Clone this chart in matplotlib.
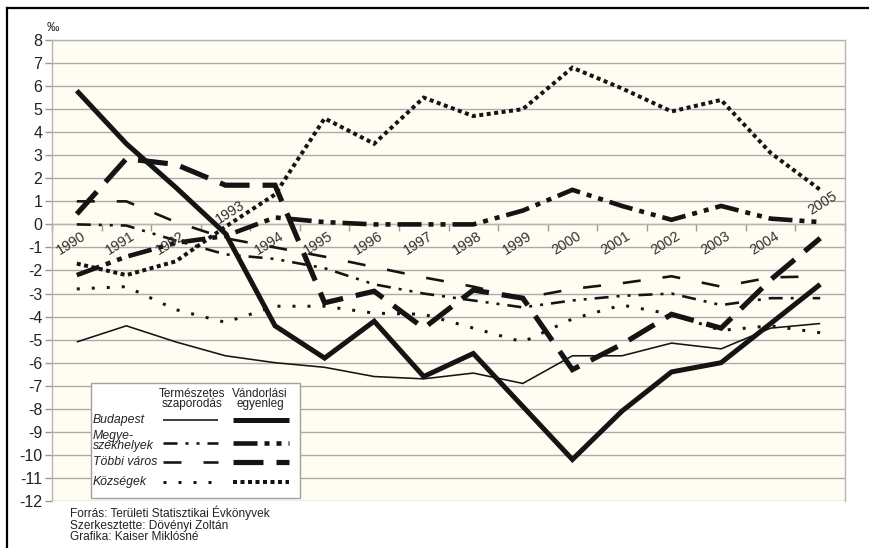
"""Budapest / megyeszékhelyek / többi város / községek: természetes szaporodás és vándorlási egyenleg, 1990-2005."""
import matplotlib
matplotlib.use("Agg")
import matplotlib.pyplot as plt
from matplotlib.lines import Line2D
from matplotlib.patches import Rectangle

plt.rcParams["font.family"] = ["Liberation Sans", "DejaVu Sans"]
plt.rcParams["lines.scale_dashes"] = False
plt.rcParams["axes.unicode_minus"] = False

# --- data (‰) ---
years = list(range(1990, 2006))

budapest_term = [-5.1, -4.4, -5.1, -5.7, -6.0, -6.2, -6.6, -6.7, -6.45, -6.9, -5.7, -5.7, -5.15, -5.4, -4.5, -4.3]
budapest_vand = [5.8, 3.5, 1.6, -0.4, -4.4, -5.8, -4.2, -6.6, -5.6, -7.9, -10.2, -8.1, -6.4, -6.0, -4.3, -2.6]
megye_term = [0.0, -0.05, -0.7, -1.3, -1.5, -1.9, -2.6, -3.0, -3.3, -3.6, -3.3, -3.1, -3.0, -3.5, -3.2, -3.2]
megye_vand = [-2.2, -1.4, -0.8, -0.5, 0.3, 0.1, 0.0, 0.0, 0.0, 0.6, 1.5, 0.8, 0.2, 0.8, 0.25, 0.1]
tobbi_term = [1.0, 1.0, 0.1, -0.6, -1.0, -1.4, -1.85, -2.3, -2.7, -3.2, -2.8, -2.55, -2.25, -2.7, -2.3, -2.25]
tobbi_vand = [0.45, 2.85, 2.6, 1.7, 1.7, -3.4, -2.9, -4.5, -2.85, -3.2, -6.3, -5.2, -3.9, -4.5, -2.4, -0.6]
kozseg_term = [-2.8, -2.7, -3.7, -4.25, -3.55, -3.55, -3.85, -3.9, -4.5, -5.1, -4.1, -3.5, -3.9, -4.6, -4.4, -4.7]
kozseg_vand = [-1.7, -2.2, -1.6, -0.1, 1.3, 4.6, 3.5, 5.5, 4.7, 5.0, 6.8, 5.9, 4.9, 5.4, 3.1, 1.5]

row_labels = ["Budapest", "Megye-\nszékhelyek", "Többi város", "Községek"]
col_labels = ["Természetes\nszaporodás", "Vándorlási\negyenleg"]
source_lines = [
    "Forrás: Területi Statisztikai Évkönyvek",
    "Szerkesztette: Dövényi Zoltán",
    "Grafika: Kaiser Miklósné",
]

# --- layout (pixels of the 869x548 picture) ---
W, H = 869, 548
PL, PR, PT, PB = 52, 845, 40, 501
PT2PX = 0.72  # points per pixel at dpi 100
INK = "#141414"


def dash(*px):
    return (0, tuple(v * PT2PX for v in px))


# linewidth (px) and dash pattern (px)
styles = {
    "bp_t": dict(lw=1.6, ls="-"),
    "bp_v": dict(lw=5.0, ls="-"),
    "my_t": dict(lw=2.6, ls=dash(14, 8, 3, 8, 3, 8)),
    "my_v": dict(lw=4.6, ls=dash(24, 7, 5, 7, 5, 7)),
    "tv_t": dict(lw=2.6, ls=dash(18, 22)),
    "tv_v": dict(lw=5.2, ls=dash(30, 13)),
    "kz_t": dict(lw=3.0, ls=dash(3, 12)),
    "kz_v": dict(lw=4.0, ls=dash(4, 3.5)),
}

series = [
    ("bp_t", budapest_term), ("kz_t", kozseg_term), ("my_t", megye_term),
    ("tv_t", tobbi_term), ("kz_v", kozseg_vand), ("my_v", megye_vand),
    ("tv_v", tobbi_vand), ("bp_v", budapest_vand),
]


def line_kw(key):
    st = styles[key]
    return dict(color=INK, linewidth=st["lw"] * PT2PX, linestyle=st["ls"],
                dash_capstyle="butt", solid_capstyle="butt", solid_joinstyle="miter",
                dash_joinstyle="miter")


fig = plt.figure(figsize=(W / 100, H / 100), dpi=100)
fig.patch.set_facecolor("white")
ax = fig.add_axes([PL / W, 1 - PB / H, (PR - PL) / W, (PB - PT) / H])
ax.set_facecolor("#fffdf2")

for key, vals in series:
    ax.plot(years, vals, **line_kw(key), zorder=3)

ax.set_xlim(years[0] - 0.5, years[-1] + 0.5)
ax.set_ylim(-12, 8)
ax.set_yticks(range(-12, 9))
ax.tick_params(axis="y", labelsize=11.5, labelcolor="#222222", color="#999999",
               length=5, width=1, pad=2)
ax.set_xticks([y - 0.5 for y in years] + [years[-1] + 0.5])
ax.set_xticklabels([])
ax.tick_params(axis="x", color="#999999", length=5, width=1, direction="out")
ax.grid(axis="y", color="#ababab", linewidth=1.0)
ax.set_axisbelow(True)
for side in ("left", "top", "right", "bottom"):
    ax.spines[side].set_color("#b5b5b5")
    ax.spines[side].set_linewidth(1.0)
ax.spines["bottom"].set_position(("data", 0))

# year labels along the zero line
for y in years:
    ly, lx = -0.8, y - 0.12
    if y == 1993:
        ly, lx = 0.55, y + 0.1
    if y == 2005:
        ly, lx = 0.9, y + 0.05
    ax.text(lx, ly, str(y), rotation=32, ha="center", va="center",
            fontsize=10.3, color="#303030", zorder=4)

# ‰ unit
fig.text(47 / W, 1 - 28 / H, "‰", fontsize=9, ha="left", va="center", color="#222222")


def px2ax(px, py):
    return (px - PL) / (PR - PL), (PB - py) / (PB - PT)


# legend box
x0, y0 = px2ax(91, 498)
x1, y1 = px2ax(300, 383)
ax.add_patch(Rectangle((x0, y0), x1 - x0, y1 - y0, transform=ax.transAxes,
                       facecolor="white", edgecolor="#a0a0a0", linewidth=1.0, zorder=5))
for cx, lab in zip((192, 260), col_labels):
    tx, ty = px2ax(cx, 399)
    ax.text(tx, ty, lab, transform=ax.transAxes, ha="center", va="center",
            fontsize=8.5, linespacing=0.85, color="#222222", zorder=6)

row_y = [420, 441, 462, 482]
row_keys = [("bp_t", "bp_v"), ("my_t", "my_v"), ("tv_t", "tv_v"), ("kz_t", "kz_v")]
for lab, ry, (kt, kv) in zip(row_labels, row_y, row_keys):
    tx, ty = px2ax(93, ry)
    ax.text(tx, ty, lab, transform=ax.transAxes, ha="left", va="center",
            fontsize=8.8, style="italic", linespacing=0.82, color="#222222", zorder=6)
    sy = ry + (2 if "\n" in lab else 0)
    for key, (sx0, sx1) in ((kt, (163, 218)), (kv, (233, 289))):
        a0 = px2ax(sx0, sy)
        a1 = px2ax(sx1, sy)
        ax.add_line(Line2D([a0[0], a1[0]], [a0[1], a1[1]], transform=ax.transAxes,
                           zorder=6, **line_kw(key)))

# source notes
fig.text(70 / W, 1 - 506 / H, "\n".join(source_lines), ha="left", va="top",
         fontsize=8.6, linespacing=0.92, color="#222222")

# outer frame (top and left edges visible)
fig.add_artist(Line2D([7 / W, 7 / W], [0, 1 - 8 / H], transform=fig.transFigure,
                      color="black", linewidth=1.6))
fig.add_artist(Line2D([7 / W, 1], [1 - 8 / H, 1 - 8 / H], transform=fig.transFigure,
                      color="black", linewidth=1.6))

fig.savefig("out.png", dpi=100)
